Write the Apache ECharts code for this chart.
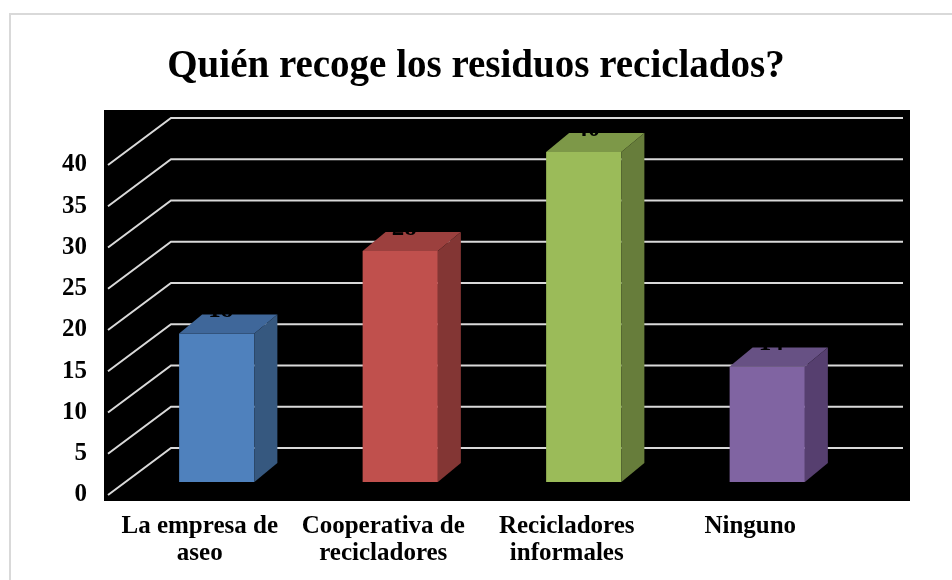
<!DOCTYPE html>
<html>
<head>
<meta charset="utf-8">
<script src="https://cdn.jsdelivr.net/npm/echarts@6/dist/echarts.min.js"></script>
<style>
  html, body { margin: 0; padding: 0; background: #fff; }
  #main { width: 952px; height: 580px; }
</style>
</head>
<body>
<div id="main"></div>
<script>
// data
var categories = ['La empresa de\naseo', 'Cooperativa de\nrecicladores', 'Recicladores\ninformales', 'Ninguno'];
var values = [18, 28, 40, 14];
var yTicks = [0, 5, 10, 15, 20, 25, 30, 35, 40];

// colours per bar: front, top, side
var fronts = ['#4f81bd', '#c0504d', '#9bbb59', '#8064a2'];
var tops = ['#3f679a', '#9c403e', '#7d9848', '#675184'];
var sides = ['#36587f', '#833634', '#677d3b', '#563f6f'];

var FONT = '"Liberation Serif", "Times New Roman", serif';
var WALL_DX = 63, WALL_DY = -47;   // depth of the wall
var PLANE_DX = 17, PLANE_DY = -13; // bars sit a bit into the depth
var BAR_DX = 23, BAR_DY = -19;     // bar depth

var chart = echarts.init(document.getElementById('main'));

function renderGrid(params, api) {
  var cs = params.coordSys;
  var y = api.coord([0, api.value(1)])[1];
  var xf = cs.x, xb = cs.x + WALL_DX, xe = cs.x + cs.width + 61;
  return {
    type: 'polyline',
    shape: { points: [[xf, y], [xb, y + WALL_DY], [xe, y + WALL_DY]] },
    style: { stroke: '#d9d9d9', lineWidth: 2, fill: null }
  };
}

function renderBar(params, api) {
  var i = api.value(0), v = api.value(1);
  var top = api.coord([i, v]);
  var base = api.coord([i, 0]);
  var w = api.size([1, 0])[0] * 0.41;
  var cx = top[0] + PLANE_DX;
  var x0 = cx - w / 2, x1 = cx + w / 2;
  var yT = top[1] + PLANE_DY, yB = base[1] + PLANE_DY;
  return {
    type: 'group',
    children: [
      { type: 'rect', shape: { x: x0, y: yT, width: w, height: yB - yT }, style: { fill: fronts[i] } },
      { type: 'polygon', shape: { points: [[x0, yT], [x1, yT], [x1 + BAR_DX, yT + BAR_DY], [x0 + BAR_DX, yT + BAR_DY]] },
        style: { fill: tops[i] } },
      { type: 'polygon', shape: { points: [[x1, yT], [x1 + BAR_DX, yT + BAR_DY], [x1 + BAR_DX, yB + BAR_DY], [x1, yB]] },
        style: { fill: sides[i] } },
      // value label, black on the black wall: only the part over the top face shows
      { type: 'text', z2: 10, style: { text: String(v), x: cx + 4, y: yT + BAR_DY + 9, align: 'center',
          verticalAlign: 'bottom', font: 'bold 25px ' + FONT, fill: '#000' } }
    ]
  };
}

var option = {
  backgroundColor: '#fff',
  animation: false,
  title: {
    text: 'Quién recoge los residuos reciclados?',
    left: 'center',
    top: 42,
    textStyle: { fontFamily: FONT, fontWeight: 'bold', fontSize: 39, color: '#000' }
  },
  graphic: [
    { type: 'rect', z: -10, shape: { x: 10, y: 14, width: 960, height: 600 },
      style: { fill: '#fff', stroke: '#d9d9d9', lineWidth: 2 } },
    { type: 'rect', z: -5, shape: { x: 104, y: 110, width: 806, height: 391 }, style: { fill: '#000' } }
  ],
  grid: { left: 108, right: 110, top: 165, bottom: 85 },
  xAxis: {
    type: 'category',
    data: categories,
    axisLine: { show: false },
    axisTick: { show: false },
    axisLabel: {
      interval: 0, margin: 18, color: '#000',
      fontFamily: FONT, fontWeight: 'bold', fontSize: 25, lineHeight: 27
    }
  },
  yAxis: {
    type: 'value',
    min: 0, max: 40, interval: 5,
    axisLine: { show: false },
    axisTick: { show: false },
    splitLine: { show: false },
    axisLabel: { margin: 21, color: '#000', fontFamily: FONT, fontWeight: 'bold', fontSize: 25 }
  },
  series: [
    {
      type: 'custom',
      z: 1,
      renderItem: renderGrid,
      data: yTicks.map(function (t) { return [0, t]; }),
      silent: true
    },
    {
      type: 'custom',
      z: 2,
      renderItem: renderBar,
      data: values.map(function (v, i) { return [i, v]; })
    }
  ]
};

chart.setOption(option);
</script>
</body>
</html>
